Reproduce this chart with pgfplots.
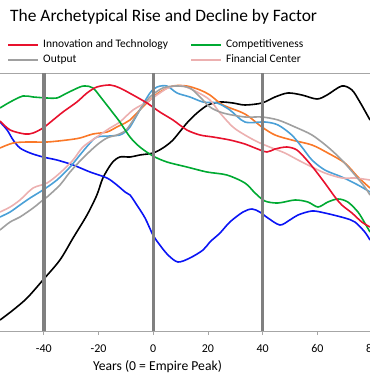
\documentclass[border=0pt]{standalone}
\usepackage{pgfplots}
\pgfplotsset{compat=1.18}
\usepackage{fontspec}
\setmainfont{Carlito}
\definecolor{cRed}{RGB}{232,17,45}
\definecolor{cGreen}{RGB}{0,170,50}
\definecolor{cGray}{RGB}{160,160,160}
\definecolor{cPink}{RGB}{236,176,176}
\definecolor{cBlue}{RGB}{10,20,245}
\definecolor{cLBlue}{RGB}{74,160,215}
\definecolor{cOrange}{RGB}{250,120,40}
\definecolor{cBar}{RGB}{128,128,128}
\definecolor{cAxis}{RGB}{166,166,166}
\begin{document}
\begin{tikzpicture}
\useasboundingbox (0,-55bp) rectangle (370bp,331bp);
\clip (0,-55bp) rectangle (370bp,331bp);
\begin{axis}[
  at={(0,0)}, anchor=south west,
  scale only axis, width=372.19bp, height=258bp,
  xmin=-56.0, xmax=80.0, ymin=0, ymax=258,
  axis x line*=bottom, axis y line=none,
  x axis line style={draw=cAxis, line width=0.8bp, -},
  xtick={-40,-20,0,20,40,60,80},
  xticklabels={-40,-20,0,20,40,60,80},
  xtick style={draw=cAxis, line width=0.8bp},
  tick align=outside, major tick length=4bp,
  xticklabel style={font=\fontsize{12}{14}\selectfont, anchor=base, inner sep=0pt, yshift=-17bp},
  xlabel={Years (0 = Empire Peak)},
  xlabel style={at={(rel axis cs:0.4232,0)}, anchor=base, yshift=-39bp, inner sep=0pt, font=\fontsize{13.7}{16}\selectfont},
  title={The Archetypical Rise and Decline by Factor},
  title style={at={(rel axis cs:0,1)}, anchor=base west, xshift=10bp, yshift=46bp, inner sep=0pt, font=\fontsize{17.5}{20}\selectfont},
  legend columns=2,
  legend style={at={(rel axis cs:0,1)}, anchor=south west, xshift=7bp, yshift=8bp,
    draw=none, fill=none, inner sep=0pt, font=\fontsize{11.5}{13}\selectfont,
    nodes={inner sep=0pt, text height=8bp, text depth=2.5bp},
    row sep=4.5bp,
    /tikz/column 1/.style={column sep=4bp},
    /tikz/column 2/.style={column sep=22bp},
    /tikz/column 3/.style={column sep=4bp}},
  legend cell align=left,
  legend image code/.code={\draw[line width=2bp,#1] (0bp,0bp) -- (30bp,0bp);},
  every axis plot/.append style={line width=1.6bp, smooth, tension=0.5},
]
\addlegendimage{cRed}\addlegendentry{Innovation and Technology}
\addlegendimage{cGreen}\addlegendentry{Competitiveness}
\addlegendimage{cGray}\addlegendentry{Output}
\addlegendimage{cPink}\addlegendentry{Financial Center}

\draw[cAxis, line width=0.8bp] (rel axis cs:0,1) -- (rel axis cs:1,1);

% Black
\addplot[black, forget plot] coordinates {
(-56.0,11) (-51.2,21) (-46.1,33) (-40.3,51) (-34.1,71) (-29.3,93) (-24.2,116) (-20.6,136)
(-18.4,153) (-15.1,168) (-12.2,174) (-8.5,174) (-4.9,176) (-0.1,178) (3.5,183) (7.2,191)
(12.3,208) (16.0,218) (20.0,226) (24.4,229) (29.1,228) (33.5,226) (39.7,228) (44.5,234)
(49.2,238) (54.3,236) (59.8,232) (63.5,236) (68.9,245) (72.6,241) (75.5,229) (79.2,211)};
% Blue
\addplot[cBlue, forget plot] coordinates {
(-56.0,209) (-53.4,201) (-51.2,191) (-48.7,183) (-45.0,178) (-40.3,174) (-35.2,171) (-29.3,166)
(-23.1,159) (-16.9,153) (-13.3,146) (-10.3,139) (-8.5,136) (-6.0,126) (-3.0,113) (-0.1,96)
(2.4,86) (5.4,76) (9.0,69) (13.4,73) (18.2,81) (20.7,89) (24.4,98) (28.0,109) (32.8,119)
(36.1,122) (38.9,119) (41.9,113) (46.3,106) (49.9,111) (52.9,116) (58.0,120) (62.7,118)
(70.0,113) (73.7,109) (77.3,99) (79.2,91)};
% Orange
\addplot[cOrange, forget plot] coordinates {
(-56.0,183) (-51.2,188) (-46.1,189) (-38.8,189) (-31.5,191) (-26.8,193) (-22.0,197) (-16.9,199)
(-13.3,204) (-10.3,208) (-8.5,211) (-4.9,221) (-1.2,231) (2.4,239) (7.2,245) (12.3,245)
(17.1,241) (20.7,236) (25.5,226) (33.5,217) (39.7,204) (44.5,196) (50.6,191) (58.0,186)
(63.8,178) (70.0,168) (74.8,154) (79.2,143)};
% Light blue
\addplot[cLBlue, forget plot] coordinates {
(-56.0,114) (-52.3,119) (-48.7,126) (-45.0,133) (-40.3,141) (-35.2,151) (-30.4,164) (-26.8,176)
(-23.1,188) (-20.6,194) (-15.8,195) (-12.2,196) (-10.3,199) (-8.5,204) (-4.9,221) (-1.2,238)
(1.4,244) (5.0,245) (8.7,238) (13.4,234) (18.2,229) (23.3,228) (28.0,221) (33.5,209)
(40.8,209) (45.6,206) (50.6,196) (54.3,184) (58.0,171) (62.7,161) (68.9,154) (74.8,146) (79.2,139)};
% Pink
\addplot[cPink, forget plot] coordinates {
(-56.0,119) (-52.3,124) (-48.7,131) (-43.9,143) (-38.8,148) (-34.1,158) (-29.3,171) (-25.7,184)
(-20.6,194) (-15.8,203) (-12.2,209) (-7.4,221) (-2.3,229) (2.4,238) (6.1,244) (10.8,245)
(16.0,239) (20.7,231) (24.4,218) (29.1,204) (33.5,196) (38.2,189) (43.4,183) (48.1,178)
(52.9,171) (58.0,164) (62.7,158) (68.9,153) (73.7,153) (79.2,151)};
% Gray
\addplot[cGray, forget plot] coordinates {
(-56.0,101) (-52.3,109) (-48.7,114) (-43.9,123) (-40.3,131) (-38.8,134) (-34.1,146) (-30.4,159)
(-25.7,173) (-20.6,186) (-16.9,193) (-13.3,196) (-10.3,200) (-8.5,206) (-4.9,221) (-1.2,234)
(3.5,243) (8.7,245) (13.4,243) (17.1,234) (20.7,224) (25.5,218) (33.5,214) (39.7,214)
(45.6,211) (51.8,204) (58.0,196) (63.8,184) (68.9,171) (73.7,156) (77.3,144) (79.2,136)};
% Green
\addplot[cGreen, forget plot] coordinates {
(-56.0,223) (-52.3,229) (-47.6,235) (-43.9,234) (-38.8,233) (-35.2,233) (-31.5,238) (-26.8,244)
(-24.9,245) (-22.0,243) (-18.4,231) (-14.7,218) (-12.2,209) (-8.5,194) (-4.9,184) (-0.1,175)
(5.0,169) (12.3,164) (19.6,159) (26.9,156) (33.5,148) (37.2,138) (40.8,130) (45.6,128)
(51.8,131) (56.5,129) (60.2,124) (63.8,129) (67.5,132) (71.1,129) (74.8,119) (77.3,108) (79.2,99)};
% Red
\addplot[cRed, forget plot] coordinates {
(-56.0,210) (-52.3,201) (-46.9,197) (-43.9,198) (-40.3,203) (-36.6,211) (-33.0,219) (-27.9,229)
(-24.2,238) (-20.6,244) (-15.8,246) (-12.2,243) (-7.4,236) (-2.3,228) (2.4,219) (7.2,211)
(12.3,201) (17.1,196) (21.8,194) (28.0,191) (33.5,187) (37.2,183) (41.5,179) (44.5,182)
(48.8,184) (52.5,181) (56.1,171) (59.1,161) (62.7,148) (66.4,134) (68.9,126) (72.6,118)
(76.2,109) (79.2,104)};

% Vertical reference lines
\addplot[cBar, line width=3.5bp, sharp plot, forget plot] coordinates {(-40,0) (-40,258)};
\addplot[cBar, line width=3.5bp, sharp plot, forget plot] coordinates {(0,0) (0,258)};
\addplot[cBar, line width=3.5bp, sharp plot, forget plot] coordinates {(40,0) (40,258)};
\end{axis}
\end{tikzpicture}
\end{document}
